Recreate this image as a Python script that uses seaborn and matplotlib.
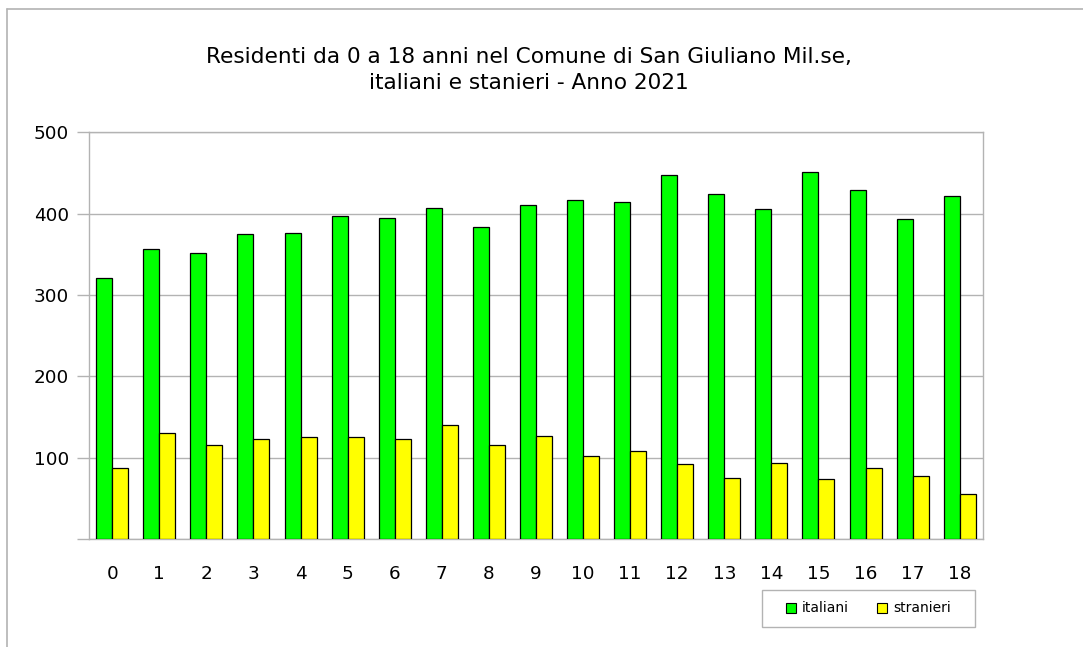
import pandas as pd
import matplotlib.pyplot as plt
import seaborn as sns
from matplotlib.lines import Line2D
from matplotlib.patches import Rectangle

# === Dati ===
eta = [str(i) for i in range(19)]
italiani = [321, 356, 352, 375, 376, 397, 395, 407, 384, 411, 417, 414, 447, 424, 406, 451, 429, 394, 422]
stranieri = [87, 130, 115, 123, 126, 126, 123, 140, 116, 127, 102, 108, 92, 75, 93, 74, 87, 77, 55]

df = pd.DataFrame({
    "Eta": eta * 2,
    "Residenti": italiani + stranieri,
    "Gruppo": ["italiani"] * len(eta) + ["stranieri"] * len(eta),
})

sns.set_style("white")
plt.rcParams["font.family"] = ["DejaVu Sans"]
plt.rcParams["text.color"] = "black"

grigio = "#b3b3b3"
W, H = 1083, 647

fig = plt.figure(figsize=(10.83, 6.47), dpi=100)
ax = fig.add_axes([0.0819, 0.1669, 0.826, 0.6286])

sns.barplot(data=df, x="Eta", y="Residenti", hue="Gruppo",
            palette={"italiani": "#00ff00", "stranieri": "#ffff00"},
            width=0.68, gap=0, edgecolor="black", linewidth=0.9,
            saturation=1, ax=ax, zorder=3)

ax.set_ylim(0, 500)
ax.set_xlim(-0.5, len(eta) - 0.5)
ax.set_yticks(range(0, 501, 100))
ax.set_yticklabels([""] + [str(v) for v in range(100, 501, 100)])
ax.set_xticks(range(len(eta)))
ax.set_xticklabels(eta)
ax.set_xticks([i - 0.5 for i in range(len(eta) + 1)], minor=True)

ax.tick_params(axis="x", which="major", length=0, pad=19, labelsize=13.2, colors="black")
ax.tick_params(axis="x", which="minor", length=8, width=1, color=grigio, direction="out")
ax.tick_params(axis="y", which="major", length=8.6, width=1, color=grigio, pad=5.5,
               labelsize=13.2, labelcolor="black", left=True)

ax.yaxis.grid(True, color=grigio, linewidth=1, zorder=0)
ax.set_axisbelow(True)
for s in ax.spines.values():
    s.set_visible(True)
    s.set_color(grigio)
    s.set_linewidth(1)

ax.set_xlabel("")
ax.set_ylabel("")
ax.get_legend().remove()

# legenda
handles = [Rectangle((0, 0), 1, 1, facecolor="#00ff00", edgecolor="black", linewidth=0.8),
           Rectangle((0, 0), 1, 1, facecolor="#ffff00", edgecolor="black", linewidth=0.8)]
leg = fig.legend(handles, ["italiani", "stranieri"], loc="center",
                 bbox_to_anchor=(868.5 / W, 1 - 608.5 / H), ncol=2, fontsize=10,
                 frameon=False, handlelength=0.7, handleheight=0.7,
                 handletextpad=0.45, columnspacing=2.0)
fig.add_artist(Rectangle((762 / W, 1 - 627 / H), 213 / W, 37 / H, transform=fig.transFigure,
                         facecolor="none", edgecolor=grigio, linewidth=1))

fig.text(529 / W, 1 - 70 / H,
         "Residenti da 0 a 18 anni nel Comune di San Giuliano Mil.se,\nitaliani e stanieri - Anno 2021",
         ha="center", va="center", fontsize=15.6, linespacing=1.42, color="black")

# bordo esterno
fig.add_artist(Line2D([7 / W, 7 / W], [0, 1 - 9 / H], transform=fig.transFigure,
                      color=grigio, linewidth=1.2))
fig.add_artist(Line2D([7 / W, 1], [1 - 9 / H, 1 - 9 / H], transform=fig.transFigure,
                      color=grigio, linewidth=1.2))

fig.savefig("out.png", dpi=100)
